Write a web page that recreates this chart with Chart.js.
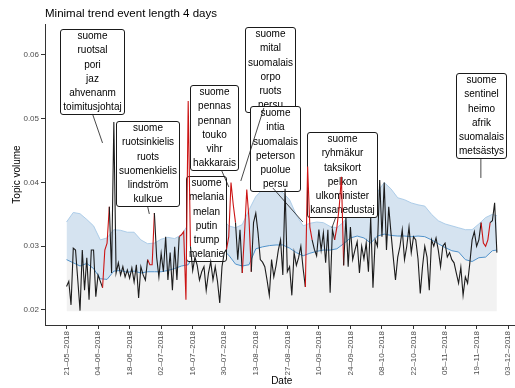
<!DOCTYPE html>
<html>
<head>
<meta charset="utf-8">
<script src="https://cdn.jsdelivr.net/npm/chart.js@4"></script>
<style>
html,body{margin:0;padding:0;background:#fff;overflow:hidden;width:515px;height:388px;}
canvas{display:block;}
</style>
</head>
<body>
<canvas id="c" width="520" height="388"></canvas>
<script>
// ---- data (day index 0 = 21-05-2018) ----
const volume = [
0.0237,0.0245,0.0208,0.0297,0.0294,0.0247,0.0199,0.0294,0.0231,0.0282,
0.0216,0.0294,0.0294,0.0221,0.0255,0.0245,0.0235,0.0294,0.0305,0.0362,
0.0258,0.0495,0.0258,0.0274,0.0255,0.0268,0.0252,0.0263,0.0250,0.0266,
0.0244,0.0271,0.0219,0.0268,0.0255,0.0247,0.0279,0.0271,0.0271,0.0352,
0.0283,0.0252,0.0289,0.0260,0.0315,0.0247,0.0290,0.0231,0.0299,0.0247,
0.0315,0.0318,0.0323,0.0216,0.0528,0.0300,0.0262,0.0283,0.0270,0.0247,
0.0260,0.0268,0.0231,0.0258,0.0276,0.0247,0.0268,0.0245,0.0211,0.0268,
0.0290,0.0295,0.0315,0.0400,0.0365,0.0337,0.0279,0.0326,0.0258,0.0320,
0.0389,0.0342,0.0260,0.0337,0.0352,0.0321,0.0279,0.0275,0.0268,0.0247,
0.0223,0.0279,0.0252,0.0270,0.0294,0.0310,0.0255,0.0390,0.0260,0.0268,
0.0223,0.0290,0.0270,0.0282,0.0300,0.0265,0.0236,0.0425,0.0330,0.0310,
0.0295,0.0285,0.0326,0.0294,0.0321,0.0274,0.0326,0.0227,0.0326,0.0310,
0.0330,0.0360,0.0409,0.0270,0.0346,0.0268,0.0330,0.0279,0.0294,0.0307,
0.0258,0.0300,0.0280,0.0305,0.0260,0.0345,0.0235,0.0310,0.0300,0.0404,
0.0315,0.0400,0.0294,0.0362,0.0321,0.0283,0.0247,0.0283,0.0300,0.0326,
0.0279,0.0300,0.0330,0.0290,0.0315,0.0310,0.0280,0.0226,0.0268,0.0300,
0.0283,0.0231,0.0310,0.0300,0.0313,0.0294,0.0268,0.0300,0.0305,0.0283,
0.0290,0.0279,0.0274,0.0258,0.0242,0.0267,0.0223,0.0252,0.0242,0.0274,
0.0310,0.0323,0.0300,0.0310,0.0337,0.0305,0.0300,0.0310,0.0337,0.0340,
0.0368,0.0290
];
const eventStart = [16, 36, 50, 71, 78, 106, 119, 184];
const eventEnd   = [19, 39, 55, 75, 82, 109, 123, 188];

const bandDays = [0,3,6,9,12,15,18,21,24,27,30,33,36,39,42,45,48,51,54,57,60,63,66,69,72,75,78,81,84,87,90,93,96,99,102,105,108,111,114,117,120,123,126,129,132,135,138,141,144,147,150,153,156,159,162,165,168,171,174,177,180,183,186,189,191];
const bandLower = [0.0279,0.0274,0.0269,0.0273,0.0265,0.0249,0.0248,0.0261,0.0262,0.0259,0.0261,0.0258,0.0260,0.0260,0.0260,0.0262,0.0265,0.0269,0.0271,0.0289,0.0292,0.0295,0.0296,0.0295,0.0286,0.0272,0.0269,0.0271,0.0296,0.0299,0.0301,0.0302,0.0302,0.0297,0.0290,0.0285,0.0289,0.0292,0.0294,0.0294,0.0296,0.0304,0.0313,0.0316,0.0313,0.0305,0.0316,0.0319,0.0317,0.0316,0.0316,0.0315,0.0316,0.0315,0.0310,0.0304,0.0298,0.0293,0.0291,0.0279,0.0276,0.0282,0.0283,0.0293,0.0294];
const bandUpper = [0.0338,0.0353,0.0351,0.0342,0.0332,0.0310,0.0313,0.0326,0.0325,0.0322,0.0322,0.0310,0.0304,0.0305,0.0311,0.0314,0.0312,0.0318,0.0334,0.0344,0.0345,0.0346,0.0348,0.0344,0.0332,0.0329,0.0334,0.0357,0.0378,0.0389,0.0392,0.0390,0.0384,0.0373,0.0349,0.0332,0.0336,0.0338,0.0337,0.0331,0.0329,0.0338,0.0354,0.0367,0.0370,0.0371,0.0385,0.0400,0.0390,0.0376,0.0373,0.0368,0.0365,0.0363,0.0350,0.0340,0.0335,0.0332,0.0329,0.0326,0.0326,0.0335,0.0345,0.0350,0.0348];
const floorValue = 0.0198;

const yTicks = [0.02, 0.03, 0.04, 0.05, 0.06];
const yTickLabels = ['0.02', '0.03', '0.04', '0.05', '0.06'];
const xTickDays = [0,14,28,42,56,70,84,98,112,126,140,154,168,182,196];
const xTickLabels = ['21–05–2018','04–06–2018','18–06–2018','02–07–2018','16–07–2018','30–07–2018','13–08–2018','27–08–2018','10–09–2018','24–09–2018','08–10–2018','22–10–2018','05–11–2018','19–11–2018','03–12–2018'];

const labelLines = [
  ['suome','ruotsal','pori','jaz','ahvenanm','toimitusjohtaj'],
  ['suome','ruotsinkielis','ruots','suomenkielis','lindström','kulkue'],
  ['suome','pennas','pennan','touko','vihr','hakkarais'],
  ['suome','melania','melan','putin','trump','melanie'],
  ['suome','mital','suomalais','orpo','ruots','persu'],
  ['suome','intia','suomalais','peterson','puolue','persu'],
  ['suome','ryhmäkur','taksikort','pelkon','ulkominister','kansanedustaj'],
  ['suome','sentinel','heimo','afrik','suomalais','metsästys']
];
const labelDays   = [11.23, 35.86, 65.38, 62.05, 90.24, 92.68, 122.41, 183.89];
const labelValues = [0.05741, 0.04306, 0.04867, 0.03435, 0.05769, 0.04529, 0.04125, 0.05051];

const connFromDay = [11.54, 35.95, 68.93, 87.57, 91.57, 119.53, 183.89];
const connFromVal = [0.05075, 0.03631, 0.04180, 0.05169, 0.03914, 0.03459, 0.04384];
const connToDay   = [15.98, 36.75, 72.04, 77.36, 104.88, 117.75, 183.89];
const connToVal   = [0.04620, 0.03506, 0.03929, 0.04024, 0.03380, 0.03286, 0.04071];

// ---- styling ----
const FONT = '"Liberation Sans", Arial, sans-serif';
const RED = '#cc1414';
const BLACK = '#1c1c1c';
const inEvent = i => eventStart.some((s, k) => i >= s && i <= eventEnd[k]);

const volumePts = volume.map((v, i) => ({x: i, y: v}));
const lowerPts = bandDays.map((d, i) => ({x: d, y: bandLower[i]}));
const upperPts = bandDays.map((d, i) => ({x: d, y: bandUpper[i]}));

const labelPlugin = {
  id: 'topicLabels',
  afterDatasetDraw(chart, args) {
    if (args.index !== 1) return;
    const {ctx} = chart;
    const xs = chart.scales.x, ys = chart.scales.y;
    const LH = 14.3;
    ctx.save();
    ctx.font = '10px ' + FONT;
    labelLines.forEach((lines, i) => {
      const cx = xs.getPixelForValue(labelDays[i]);
      const cy = ys.getPixelForValue(labelValues[i]);
      const w = Math.max(...lines.map(t => ctx.measureText(t).width)) + 5.4;
      const h = (lines.length - 1) * LH + 13.4;
      const left = Math.round(cx - w / 2) + 0.5, top = Math.round(cy - h / 2) + 0.5;
      ctx.beginPath();
      ctx.roundRect(left, top, Math.round(w), Math.round(h), 2.5);
      ctx.fillStyle = '#ffffff';
      ctx.fill();
      ctx.lineWidth = 1;
      ctx.strokeStyle = '#1a1a1a';
      ctx.stroke();
      ctx.fillStyle = '#000';
      ctx.textAlign = 'center';
      ctx.textBaseline = 'middle';
      lines.forEach((t, j) => ctx.fillText(t, left + Math.round(w) / 2, top + 6.7 + j * LH));
    });
    ctx.strokeStyle = '#1a1a1a';
    ctx.lineWidth = 0.8;
    connFromDay.forEach((d, i) => {
      ctx.beginPath();
      ctx.moveTo(xs.getPixelForValue(d), ys.getPixelForValue(connFromVal[i]));
      ctx.lineTo(xs.getPixelForValue(connToDay[i]), ys.getPixelForValue(connToVal[i]));
      ctx.stroke();
    });
    ctx.restore();
  }
};

const textPlugin = {
  id: 'titles',
  afterDraw(chart) {
    const {ctx, chartArea: a} = chart;
    ctx.save();
    ctx.fillStyle = '#000';
    ctx.font = '11.5px ' + FONT;
    ctx.textAlign = 'left';
    ctx.textBaseline = 'alphabetic';
    ctx.fillText('Minimal trend event length 4 days', a.left, 17);
    ctx.font = '10px ' + FONT;
    ctx.textAlign = 'center';
    ctx.textBaseline = 'middle';
    ctx.fillText('Date', (a.left + a.right) / 2, 381.5);
    ctx.translate(17, (a.top + a.bottom) / 2);
    ctx.rotate(-Math.PI / 2);
    ctx.fillText('Topic volume', 0, 0);
    ctx.restore();
  }
};

new Chart(document.getElementById('c'), {
  type: 'line',
  data: {
    datasets: [
      {
        label: 'volume', data: volumePts, order: 1,
        borderColor: BLACK, borderWidth: 1.1, pointRadius: 0, fill: false, tension: 0,
        segment: { borderColor: c => (inEvent(c.p0DataIndex) && inEvent(c.p1DataIndex)) ? RED : BLACK }
      },
      {
        label: 'baseline', data: lowerPts, order: 3,
        borderColor: '#5092cb', borderWidth: 1, pointRadius: 0, tension: 0,
        fill: {value: floorValue}, backgroundColor: '#f2f2f2'
      },
      {
        label: 'upper', data: upperPts, order: 4,
        borderColor: '#a6c8e6', borderWidth: 0.9, pointRadius: 0, tension: 0,
        fill: 1, backgroundColor: '#d5e3f0'
      }
    ]
  },
  options: {
    responsive: false,
    animation: false,
    devicePixelRatio: 1,
    layout: { padding: { top: 24, left: 0, right: 1.6, bottom: 0 } },
    plugins: { legend: {display: false}, tooltip: {enabled: false}, title: {display: false} },
    scales: {
      x: {
        type: 'linear', min: -9.55, max: 200.55,
        afterFit: s => { s.height = 63; },
        afterBuildTicks: s => { s.ticks = xTickDays.map(v => ({value: v})); },
        grid: { drawOnChartArea: false, drawTicks: true, tickLength: 4, tickColor: '#333' },
        border: { display: true, color: '#333', width: 1 },
        ticks: {
          autoSkip: false, minRotation: 90, maxRotation: 90, padding: 2,
          color: '#4d4d4d', font: { family: FONT, size: 8 },
          callback: (v, i) => xTickLabels[i]
        }
      },
      y: {
        type: 'linear', min: 0.017647, max: 0.06486,
        afterFit: s => { s.width = 45; },
        afterBuildTicks: s => { s.ticks = yTicks.map(v => ({value: v})); },
        grid: { drawOnChartArea: false, drawTicks: true, tickLength: 4, tickColor: '#333' },
        border: { display: true, color: '#333', width: 1 },
        ticks: {
          padding: 2, color: '#4d4d4d', font: { family: FONT, size: 8 },
          callback: (v, i) => yTickLabels[i]
        }
      }
    }
  },
  plugins: [labelPlugin, textPlugin]
});
</script>
</body>
</html>
